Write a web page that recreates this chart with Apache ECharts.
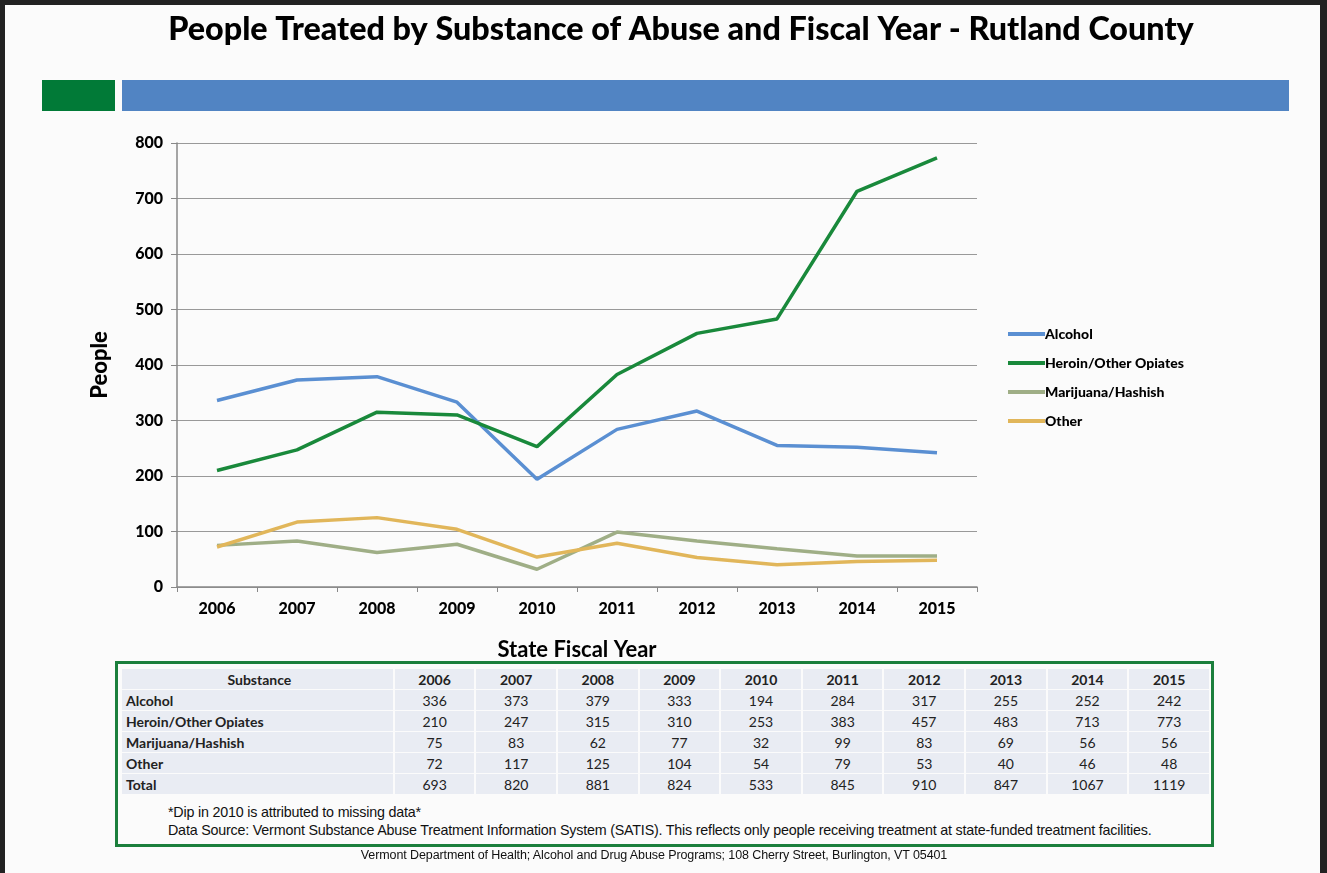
<!DOCTYPE html>
<html><head><meta charset="utf-8">
<script src="https://cdn.jsdelivr.net/npm/echarts@6/dist/echarts.min.js"></script>
<style>
html,body{margin:0;padding:0;background:#222;}
#page{position:absolute;left:5px;top:5px;width:1315px;height:868px;background:#fbfbfb;}
#chart{position:absolute;left:0;top:0;width:1327px;height:873px;}
#tbl{position:absolute;left:115px;top:661px;width:1099px;height:186px;border:3px solid #1b7f3c;box-sizing:border-box;background:#fbfbfb;font-family:"Lato","Noto Sans",sans-serif;}
#tbl table{position:absolute;left:2px;top:4px;border-collapse:separate;border-spacing:2px 1px;font-size:14px;}
#tbl td{background:#e9ecf3;height:20px;padding:0;text-align:center;color:#222;}
#tbl td.lab{text-align:left;font-weight:bold;width:268px;padding-left:4px;}
#tbl td.v{width:80px;}
#tbl tr.h td{font-weight:bold;}
#note{position:absolute;left:50px;top:139px;font-family:"Liberation Sans","Arial",sans-serif;font-size:14.3px;line-height:18px;color:#111;letter-spacing:-0.2px;}
#foot{position:absolute;left:0;width:1308px;top:848px;text-align:center;font-family:"Liberation Sans",sans-serif;font-size:12.5px;color:#111;letter-spacing:-0.1px;}
</style></head>
<body>
<div id="page"></div>
<div id="chart"></div>
<div id="tbl"><div id="tblin"></div>
<div id="note">*Dip in 2010 is attributed to missing data*<br>Data Source: Vermont Substance Abuse Treatment Information System (SATIS). This reflects only people receiving treatment at state-funded treatment facilities.</div>
</div>
<div id="foot">Vermont Department of Health; Alcohol and Drug Abuse Programs; 108 Cherry Street, Burlington, VT 05401</div>
<script>
const years = ['2006','2007','2008','2009','2010','2011','2012','2013','2014','2015'];
const alcohol = [336,373,379,333,194,284,317,255,252,242];
const heroin = [210,247,315,310,253,383,457,483,713,773];
const marijuana = [75,83,62,77,32,99,83,69,56,56];
const other = [72,117,125,104,54,79,53,40,46,48];
const totals = [693,820,881,824,533,845,910,847,1067,1119];
const seriesNames = ['Alcohol','Heroin/Other Opiates','Marijuana/Hashish','Other'];
const yTicks = [0,100,200,300,400,500,600,700,800];

// table
const rows = [alcohol, heroin, marijuana, other, totals];
const rowNames = seriesNames.concat(['Total']);
let html = '<table><tr class="h"><td class="lab" style="text-align:center">Substance</td>' + years.map(y=>'<td class="v">'+y+'</td>').join('') + '</tr>';
rows.forEach((r,i)=>{ html += '<tr><td class="lab">'+rowNames[i]+'</td>' + r.map(v=>'<td class="v">'+v+'</td>').join('') + '</tr>'; });
html += '</table>';
document.getElementById('tblin').innerHTML = html;

const colors = ['#5a8fd2','#19893b','#9fae86','#e1b65a'];
const chart = echarts.init(document.getElementById('chart'), null, {renderer:'canvas'});
const font = '"Lato","Noto Sans",sans-serif';
chart.setOption({
  backgroundColor:'transparent',
  animation:false,
  color: colors,
  title:{text:'People Treated by Substance of Abuse and Fiscal Year - Rutland County', left:676, textAlign:'center', top:9,
    textStyle:{fontFamily:font, fontWeight:900, fontSize:32.3, color:'#000'}},
  graphic:[
    {type:'rect', shape:{x:42,y:80,width:73,height:31}, style:{fill:'#017a37'}},
    {type:'rect', shape:{x:122,y:80,width:1167,height:31}, style:{fill:'#5184c3'}}
  ],
  legend:{orient:'vertical', left:1003, top:322, itemWidth:37, itemHeight:4, itemGap:15,
    icon:'rect', data:seriesNames,
    textStyle:{fontFamily:font, fontWeight:900, fontSize:14, color:'#000', padding:[0,0,0,-5]}},
  grid:{left:177, top:143, width:800, height:444},
  xAxis:{type:'category', data:years, boundaryGap:true,
    name:'State Fiscal Year', nameLocation:'middle', nameGap:52,
    nameTextStyle:{fontFamily:font, fontWeight:'bold', fontSize:22, color:'#000'},
    axisLine:{lineStyle:{color:'#888', width:1.5}},
    axisTick:{show:true, length:5, lineStyle:{color:'#888'}},
    axisLabel:{fontFamily:font, fontWeight:900, fontSize:16, color:'#000', margin:14}},
  yAxis:{type:'value', min:0, max:800, interval:100,
    name:'People', nameLocation:'middle', nameGap:66, nameRotate:90,
    nameTextStyle:{fontFamily:font, fontWeight:900, fontSize:22, color:'#000'},
    axisLine:{show:true, lineStyle:{color:'#888', width:1.5}},
    axisTick:{show:true, length:6, lineStyle:{color:'#888'}},
    axisLabel:{fontFamily:font, fontWeight:900, fontSize:16, color:'#000', margin:14,
      formatter:v=>yTicks.includes(v)?String(v):''},
    splitLine:{lineStyle:{color:'#999', width:1}}},
  series:[
    {name:seriesNames[0], type:'line', data:alcohol, symbol:'none', lineStyle:{width:3.5}},
    {name:seriesNames[1], type:'line', data:heroin, symbol:'none', lineStyle:{width:3.5}},
    {name:seriesNames[2], type:'line', data:marijuana, symbol:'none', lineStyle:{width:3.5}},
    {name:seriesNames[3], type:'line', data:other, symbol:'none', lineStyle:{width:3.5}}
  ]
});
</script>
</body></html>
